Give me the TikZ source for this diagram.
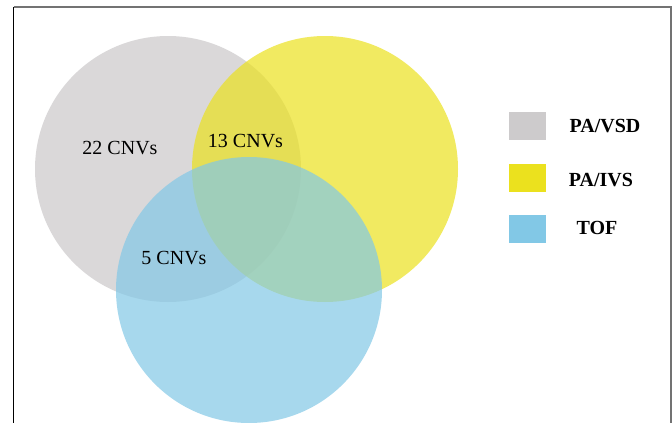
\documentclass[tikz,border=0pt]{standalone}
\usepackage{fontspec}
\setmainfont{Liberation Serif}
\usepackage{tikz}
\usetikzlibrary{positioning}

\definecolor{vsdgray}{RGB}{218,216,217}
\definecolor{ivsyellow}{RGB}{235,225,30}
\definecolor{tofblue}{RGB}{130,200,230}

\begin{document}
\begin{tikzpicture}[
    x=1pt, y=-1pt,
    set/.style={circle, minimum size=266pt, inner sep=0pt, draw=none},
    count/.style={font=\fontsize{20}{22}\selectfont, inner sep=0pt},
    key/.style={rectangle, minimum width=37pt, minimum height=28pt, inner sep=0pt, draw=none},
    keylabel/.style={font=\fontsize{20}{22}\selectfont\bfseries, inner sep=0pt}
]
\useasboundingbox (0,0) rectangle (672,423);

% Frame
\draw[black, line width=0.8pt] (13.5,423) -- (13.5,6.5);
\draw[gray!90!black, line width=2pt] (13.5,6.5) -- (670.5,6.5) -- (670.5,423);

% Sets
\node[set, fill=vsdgray] (vsd) at (168,169) {};
\node[set, fill=ivsyellow, fill opacity=0.7] (ivs) at (325,169) {};
\node[set, fill=tofblue, fill opacity=0.7] (tof) at (249,290) {};

% Counts
\node[count] (vsdonly) at (120,148) {22 CNVs};
\node[count] (vsdivs) at (245.5,141) {13 CNVs};
\node[count] (vsdtof) at (174,258) {5 CNVs};

% Legend
\node[key, fill=vsdgray!94!black] (vsdkey) at (527.5,126) {};
\node[key, fill=ivsyellow] (ivskey) at (527.5,178) {};
\node[key, fill=tofblue] (tofkey) at (527.5,229) {};

\node[keylabel] (vsdlabel) at (605,126) {PA/VSD};
\node[keylabel] (ivslabel) at (601,180) {PA/IVS};
\node[keylabel] (toflabel) at (597,228) {TOF};

\end{tikzpicture}
\end{document}
